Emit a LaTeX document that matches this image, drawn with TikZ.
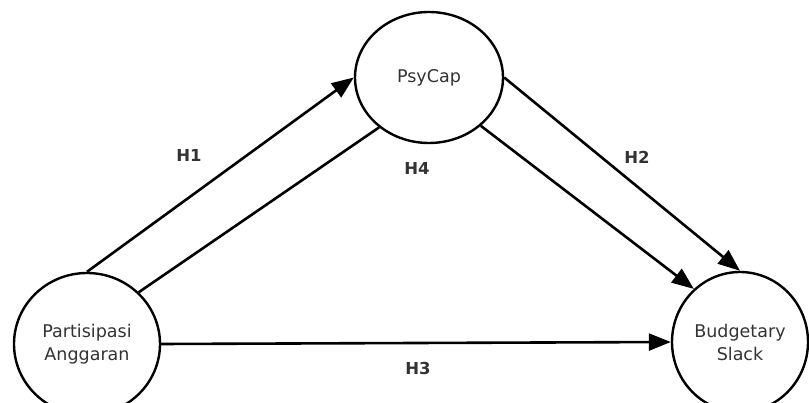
\documentclass[tikz,border=0pt]{standalone}
\usepackage{fontspec}
\setmainfont{DejaVu Sans}
\usetikzlibrary{shapes.geometric,arrows.meta}
\definecolor{txt}{HTML}{333333}
\begin{document}
\begin{tikzpicture}[x=1pt,y=-1pt,
  var/.style={draw=black, line width=2.4pt, ellipse, inner sep=0pt, fill=white, text=txt,
    font=\fontsize{17.5}{23}\selectfont, align=center},
  conn/.style={line width=2.6pt, -{Triangle[length=22pt,width=17pt]}},
  plain/.style={line width=2.6pt},
  lab/.style={text=txt, font=\fontsize{16.5}{19}\selectfont\bfseries}]
\clip (0,0) rectangle (809,403);
\fill[white] (0,0) rectangle (809,403);
\node[var, minimum width=146pt, minimum height=142pt] (pa) at (87,344) {Partisipasi\\Anggaran};
\node[var, minimum width=148pt, minimum height=131pt] (pc) at (429,77.5) {PsyCap};
\node[var, minimum width=136pt, minimum height=140pt] (bs) at (740,342) {Budgetary\\Slack};
\draw[conn] (pa.north) -- (pc.west);
\draw[plain] (pa.45) -- (pc.225);
\draw[conn] (pc.east) -- (bs.north);
\draw[conn] (pc.-43) -- (bs.131);
\draw[conn] (pa.east) -- (bs.west);
\node[lab] (h1) at (189,155) {H1};
\node[lab] (h4) at (417,168) {H4};
\node[lab] (h2) at (637,157) {H2};
\node[lab] (h3) at (418,368) {H3};
\end{tikzpicture}
\end{document}
